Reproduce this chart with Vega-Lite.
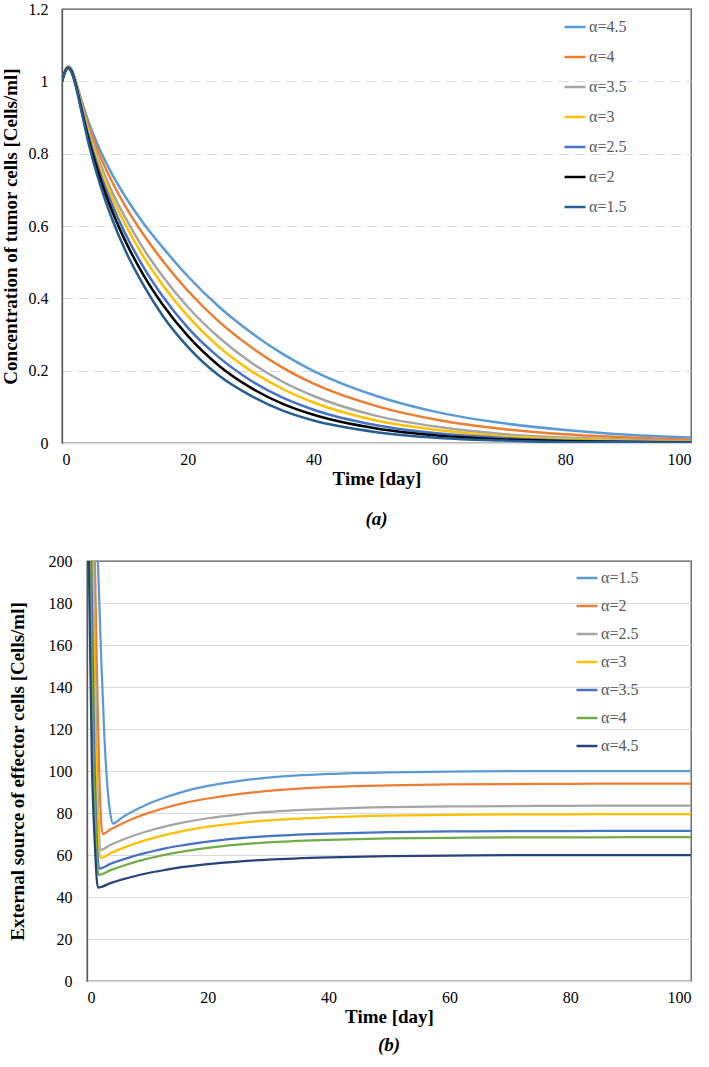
{
  "$schema": "https://vega.github.io/schema/vega-lite/v6.json",
  "background": "white",
  "padding": {"left": 0, "top": 0, "right": 4, "bottom": 4},
  "spacing": 22,
  "align": "none",
  "resolve": {
    "scale": {"x": "independent", "y": "independent", "color": "independent"},
    "legend": {"color": "independent"}
  },
  "config": {
    "font": "Liberation Serif",
    "view": {"stroke": "#595959", "strokeWidth": 1.3},
    "axis": {
      "labelFont": "Liberation Serif",
      "labelFontSize": 16,
      "labelColor": "#000000",
      "titleFont": "Liberation Serif",
      "titleFontSize": 19,
      "titleFontWeight": "bold",
      "titleColor": "#000000",
      "ticks": false,
      "gridColor": "#D9D9D9",
      "gridWidth": 1.2
    },
    "legend": {
      "labelFont": "Liberation Serif",
      "labelFontSize": 16,
      "labelColor": "#595959",
      "symbolType": "stroke",
      "symbolStrokeWidth": 2.5,
      "symbolSize": 441,
      "labelOffset": 2,
      "padding": 0
    },
    "title": {"font": "Liberation Serif", "fontSize": 19, "fontWeight": "bold", "fontStyle": "italic", "color": "#000000"}
  },
  "datasets": {
    "tumor": [
      {"day": 0, "alpha": "α=4.5", "cells": 1.0}, {"day": 0.5, "alpha": "α=4.5", "cells": 1.03}, {"day": 1, "alpha": "α=4.5", "cells": 1.042}, {"day": 1.5, "alpha": "α=4.5", "cells": 1.035}, {"day": 2, "alpha": "α=4.5", "cells": 1.01}, {"day": 3, "alpha": "α=4.5", "cells": 0.953}, {"day": 4, "alpha": "α=4.5", "cells": 0.899}, {"day": 6, "alpha": "α=4.5", "cells": 0.812}, {"day": 8, "alpha": "α=4.5", "cells": 0.742}, {"day": 10, "alpha": "α=4.5", "cells": 0.683}, {"day": 13, "alpha": "α=4.5", "cells": 0.606}, {"day": 16, "alpha": "α=4.5", "cells": 0.541}, {"day": 20, "alpha": "α=4.5", "cells": 0.461}, {"day": 25, "alpha": "α=4.5", "cells": 0.376}, {"day": 30, "alpha": "α=4.5", "cells": 0.306}, {"day": 35, "alpha": "α=4.5", "cells": 0.247}, {"day": 40, "alpha": "α=4.5", "cells": 0.199}, {"day": 50, "alpha": "α=4.5", "cells": 0.13}, {"day": 60, "alpha": "α=4.5", "cells": 0.084}, {"day": 70, "alpha": "α=4.5", "cells": 0.055}, {"day": 80, "alpha": "α=4.5", "cells": 0.036}, {"day": 90, "alpha": "α=4.5", "cells": 0.023}, {"day": 100, "alpha": "α=4.5", "cells": 0.015},
      {"day": 0, "alpha": "α=4", "cells": 1.0}, {"day": 0.5, "alpha": "α=4", "cells": 1.03}, {"day": 1, "alpha": "α=4", "cells": 1.041}, {"day": 1.5, "alpha": "α=4", "cells": 1.033}, {"day": 2, "alpha": "α=4", "cells": 1.01}, {"day": 3, "alpha": "α=4", "cells": 0.948}, {"day": 4, "alpha": "α=4", "cells": 0.889}, {"day": 6, "alpha": "α=4", "cells": 0.796}, {"day": 8, "alpha": "α=4", "cells": 0.721}, {"day": 10, "alpha": "α=4", "cells": 0.657}, {"day": 13, "alpha": "α=4", "cells": 0.575}, {"day": 16, "alpha": "α=4", "cells": 0.504}, {"day": 20, "alpha": "α=4", "cells": 0.421}, {"day": 25, "alpha": "α=4", "cells": 0.335}, {"day": 30, "alpha": "α=4", "cells": 0.266}, {"day": 35, "alpha": "α=4", "cells": 0.209}, {"day": 40, "alpha": "α=4", "cells": 0.164}, {"day": 50, "alpha": "α=4", "cells": 0.102}, {"day": 60, "alpha": "α=4", "cells": 0.063}, {"day": 70, "alpha": "α=4", "cells": 0.039}, {"day": 80, "alpha": "α=4", "cells": 0.024}, {"day": 90, "alpha": "α=4", "cells": 0.015}, {"day": 100, "alpha": "α=4", "cells": 0.009},
      {"day": 0, "alpha": "α=3.5", "cells": 1.0}, {"day": 0.5, "alpha": "α=3.5", "cells": 1.03}, {"day": 1, "alpha": "α=3.5", "cells": 1.04}, {"day": 1.5, "alpha": "α=3.5", "cells": 1.032}, {"day": 2, "alpha": "α=3.5", "cells": 1.008}, {"day": 3, "alpha": "α=3.5", "cells": 0.942}, {"day": 4, "alpha": "α=3.5", "cells": 0.878}, {"day": 6, "alpha": "α=3.5", "cells": 0.776}, {"day": 8, "alpha": "α=3.5", "cells": 0.693}, {"day": 10, "alpha": "α=3.5", "cells": 0.625}, {"day": 13, "alpha": "α=3.5", "cells": 0.536}, {"day": 16, "alpha": "α=3.5", "cells": 0.461}, {"day": 20, "alpha": "α=3.5", "cells": 0.376}, {"day": 25, "alpha": "α=3.5", "cells": 0.291}, {"day": 30, "alpha": "α=3.5", "cells": 0.223}, {"day": 35, "alpha": "α=3.5", "cells": 0.17}, {"day": 40, "alpha": "α=3.5", "cells": 0.13}, {"day": 50, "alpha": "α=3.5", "cells": 0.075}, {"day": 60, "alpha": "α=3.5", "cells": 0.044}, {"day": 70, "alpha": "α=3.5", "cells": 0.025}, {"day": 80, "alpha": "α=3.5", "cells": 0.015}, {"day": 90, "alpha": "α=3.5", "cells": 0.009}, {"day": 100, "alpha": "α=3.5", "cells": 0.005},
      {"day": 0, "alpha": "α=3", "cells": 1.0}, {"day": 0.5, "alpha": "α=3", "cells": 1.029}, {"day": 1, "alpha": "α=3", "cells": 1.039}, {"day": 1.5, "alpha": "α=3", "cells": 1.03}, {"day": 2, "alpha": "α=3", "cells": 1.006}, {"day": 3, "alpha": "α=3", "cells": 0.938}, {"day": 4, "alpha": "α=3", "cells": 0.872}, {"day": 6, "alpha": "α=3", "cells": 0.764}, {"day": 8, "alpha": "α=3", "cells": 0.677}, {"day": 10, "alpha": "α=3", "cells": 0.606}, {"day": 13, "alpha": "α=3", "cells": 0.514}, {"day": 16, "alpha": "α=3", "cells": 0.437}, {"day": 20, "alpha": "α=3", "cells": 0.351}, {"day": 25, "alpha": "α=3", "cells": 0.265}, {"day": 30, "alpha": "α=3", "cells": 0.2}, {"day": 35, "alpha": "α=3", "cells": 0.15}, {"day": 40, "alpha": "α=3", "cells": 0.112}, {"day": 50, "alpha": "α=3", "cells": 0.062}, {"day": 60, "alpha": "α=3", "cells": 0.035}, {"day": 70, "alpha": "α=3", "cells": 0.019}, {"day": 80, "alpha": "α=3", "cells": 0.011}, {"day": 90, "alpha": "α=3", "cells": 0.006}, {"day": 100, "alpha": "α=3", "cells": 0.003},
      {"day": 0, "alpha": "α=2.5", "cells": 1.0}, {"day": 0.5, "alpha": "α=2.5", "cells": 1.028}, {"day": 1, "alpha": "α=2.5", "cells": 1.038}, {"day": 1.5, "alpha": "α=2.5", "cells": 1.029}, {"day": 2, "alpha": "α=2.5", "cells": 1.004}, {"day": 3, "alpha": "α=2.5", "cells": 0.934}, {"day": 4, "alpha": "α=2.5", "cells": 0.863}, {"day": 6, "alpha": "α=2.5", "cells": 0.748}, {"day": 8, "alpha": "α=2.5", "cells": 0.658}, {"day": 10, "alpha": "α=2.5", "cells": 0.581}, {"day": 13, "alpha": "α=2.5", "cells": 0.485}, {"day": 16, "alpha": "α=2.5", "cells": 0.406}, {"day": 20, "alpha": "α=2.5", "cells": 0.319}, {"day": 25, "alpha": "α=2.5", "cells": 0.236}, {"day": 30, "alpha": "α=2.5", "cells": 0.173}, {"day": 35, "alpha": "α=2.5", "cells": 0.126}, {"day": 40, "alpha": "α=2.5", "cells": 0.092}, {"day": 50, "alpha": "α=2.5", "cells": 0.049}, {"day": 60, "alpha": "α=2.5", "cells": 0.026}, {"day": 70, "alpha": "α=2.5", "cells": 0.014}, {"day": 80, "alpha": "α=2.5", "cells": 0.007}, {"day": 90, "alpha": "α=2.5", "cells": 0.004}, {"day": 100, "alpha": "α=2.5", "cells": 0.002},
      {"day": 0, "alpha": "α=2", "cells": 1.0}, {"day": 0.5, "alpha": "α=2", "cells": 1.027}, {"day": 1, "alpha": "α=2", "cells": 1.037}, {"day": 1.5, "alpha": "α=2", "cells": 1.027}, {"day": 2, "alpha": "α=2", "cells": 1.002}, {"day": 3, "alpha": "α=2", "cells": 0.929}, {"day": 4, "alpha": "α=2", "cells": 0.855}, {"day": 6, "alpha": "α=2", "cells": 0.735}, {"day": 8, "alpha": "α=2", "cells": 0.64}, {"day": 10, "alpha": "α=2", "cells": 0.561}, {"day": 13, "alpha": "α=2", "cells": 0.463}, {"day": 16, "alpha": "α=2", "cells": 0.383}, {"day": 20, "alpha": "α=2", "cells": 0.296}, {"day": 25, "alpha": "α=2", "cells": 0.213}, {"day": 30, "alpha": "α=2", "cells": 0.153}, {"day": 35, "alpha": "α=2", "cells": 0.109}, {"day": 40, "alpha": "α=2", "cells": 0.078}, {"day": 50, "alpha": "α=2", "cells": 0.04}, {"day": 60, "alpha": "α=2", "cells": 0.02}, {"day": 70, "alpha": "α=2", "cells": 0.01}, {"day": 80, "alpha": "α=2", "cells": 0.005}, {"day": 90, "alpha": "α=2", "cells": 0.003}, {"day": 100, "alpha": "α=2", "cells": 0.001},
      {"day": 0, "alpha": "α=1.5", "cells": 1.0}, {"day": 0.5, "alpha": "α=1.5", "cells": 1.026}, {"day": 1, "alpha": "α=1.5", "cells": 1.036}, {"day": 1.5, "alpha": "α=1.5", "cells": 1.025}, {"day": 2, "alpha": "α=1.5", "cells": 1.0}, {"day": 3, "alpha": "α=1.5", "cells": 0.924}, {"day": 4, "alpha": "α=1.5", "cells": 0.845}, {"day": 6, "alpha": "α=1.5", "cells": 0.718}, {"day": 8, "alpha": "α=1.5", "cells": 0.618}, {"day": 10, "alpha": "α=1.5", "cells": 0.535}, {"day": 13, "alpha": "α=1.5", "cells": 0.435}, {"day": 16, "alpha": "α=1.5", "cells": 0.352}, {"day": 20, "alpha": "α=1.5", "cells": 0.266}, {"day": 25, "alpha": "α=1.5", "cells": 0.186}, {"day": 30, "alpha": "α=1.5", "cells": 0.131}, {"day": 35, "alpha": "α=1.5", "cells": 0.09}, {"day": 40, "alpha": "α=1.5", "cells": 0.062}, {"day": 50, "alpha": "α=1.5", "cells": 0.03}, {"day": 60, "alpha": "α=1.5", "cells": 0.014}, {"day": 70, "alpha": "α=1.5", "cells": 0.007}, {"day": 80, "alpha": "α=1.5", "cells": 0.003}, {"day": 90, "alpha": "α=1.5", "cells": 0.002}, {"day": 100, "alpha": "α=1.5", "cells": 0.001}
    ],
    "effector": [
      {"day": 1.8, "alpha": "α=1.5", "cells": 200}, {"day": 2.4, "alpha": "α=1.5", "cells": 150}, {"day": 2.9, "alpha": "α=1.5", "cells": 115}, {"day": 3.4, "alpha": "α=1.5", "cells": 92}, {"day": 3.9, "alpha": "α=1.5", "cells": 79}, {"day": 4.3, "alpha": "α=1.5", "cells": 75}, {"day": 6, "alpha": "α=1.5", "cells": 78.2}, {"day": 8, "alpha": "α=1.5", "cells": 81.4}, {"day": 10, "alpha": "α=1.5", "cells": 84.2}, {"day": 13, "alpha": "α=1.5", "cells": 87.5}, {"day": 16, "alpha": "α=1.5", "cells": 90.2}, {"day": 20, "alpha": "α=1.5", "cells": 92.9}, {"day": 25, "alpha": "α=1.5", "cells": 95.2}, {"day": 30, "alpha": "α=1.5", "cells": 96.8}, {"day": 40, "alpha": "α=1.5", "cells": 98.6}, {"day": 50, "alpha": "α=1.5", "cells": 99.4}, {"day": 60, "alpha": "α=1.5", "cells": 99.7}, {"day": 70, "alpha": "α=1.5", "cells": 99.9}, {"day": 80, "alpha": "α=1.5", "cells": 99.9}, {"day": 90, "alpha": "α=1.5", "cells": 100}, {"day": 100, "alpha": "α=1.5", "cells": 100},
      {"day": 1.3, "alpha": "α=2", "cells": 200}, {"day": 1.7, "alpha": "α=2", "cells": 140}, {"day": 2.0, "alpha": "α=2", "cells": 102}, {"day": 2.3, "alpha": "α=2", "cells": 78}, {"day": 2.6, "alpha": "α=2", "cells": 70}, {"day": 4, "alpha": "α=2", "cells": 72.4}, {"day": 6, "alpha": "α=2", "cells": 75.2}, {"day": 8, "alpha": "α=2", "cells": 77.7}, {"day": 10, "alpha": "α=2", "cells": 79.8}, {"day": 13, "alpha": "α=2", "cells": 82.5}, {"day": 16, "alpha": "α=2", "cells": 84.7}, {"day": 20, "alpha": "α=2", "cells": 86.9}, {"day": 25, "alpha": "α=2", "cells": 89.0}, {"day": 30, "alpha": "α=2", "cells": 90.5}, {"day": 40, "alpha": "α=2", "cells": 92.3}, {"day": 50, "alpha": "α=2", "cells": 93.1}, {"day": 60, "alpha": "α=2", "cells": 93.6}, {"day": 70, "alpha": "α=2", "cells": 93.8}, {"day": 80, "alpha": "α=2", "cells": 93.9}, {"day": 90, "alpha": "α=2", "cells": 94}, {"day": 100, "alpha": "α=2", "cells": 94},
      {"day": 1.1, "alpha": "α=2.5", "cells": 200}, {"day": 1.5, "alpha": "α=2.5", "cells": 120}, {"day": 1.9, "alpha": "α=2.5", "cells": 78}, {"day": 2.2, "alpha": "α=2.5", "cells": 62.5}, {"day": 4, "alpha": "α=2.5", "cells": 65.0}, {"day": 6, "alpha": "α=2.5", "cells": 67.4}, {"day": 8, "alpha": "α=2.5", "cells": 69.5}, {"day": 10, "alpha": "α=2.5", "cells": 71.3}, {"day": 13, "alpha": "α=2.5", "cells": 73.6}, {"day": 16, "alpha": "α=2.5", "cells": 75.5}, {"day": 20, "alpha": "α=2.5", "cells": 77.5}, {"day": 25, "alpha": "α=2.5", "cells": 79.2}, {"day": 30, "alpha": "α=2.5", "cells": 80.5}, {"day": 40, "alpha": "α=2.5", "cells": 82.0}, {"day": 50, "alpha": "α=2.5", "cells": 82.8}, {"day": 60, "alpha": "α=2.5", "cells": 83.1}, {"day": 70, "alpha": "α=2.5", "cells": 83.3}, {"day": 80, "alpha": "α=2.5", "cells": 83.4}, {"day": 90, "alpha": "α=2.5", "cells": 83.5}, {"day": 100, "alpha": "α=2.5", "cells": 83.5},
      {"day": 0.9, "alpha": "α=3", "cells": 200}, {"day": 1.4, "alpha": "α=3", "cells": 115}, {"day": 1.8, "alpha": "α=3", "cells": 75}, {"day": 2.2, "alpha": "α=3", "cells": 58.5}, {"day": 4, "alpha": "α=3", "cells": 61.0}, {"day": 6, "alpha": "α=3", "cells": 63.4}, {"day": 8, "alpha": "α=3", "cells": 65.5}, {"day": 10, "alpha": "α=3", "cells": 67.3}, {"day": 13, "alpha": "α=3", "cells": 69.6}, {"day": 16, "alpha": "α=3", "cells": 71.5}, {"day": 20, "alpha": "α=3", "cells": 73.5}, {"day": 25, "alpha": "α=3", "cells": 75.2}, {"day": 30, "alpha": "α=3", "cells": 76.5}, {"day": 40, "alpha": "α=3", "cells": 78.0}, {"day": 50, "alpha": "α=3", "cells": 78.8}, {"day": 60, "alpha": "α=3", "cells": 79.1}, {"day": 70, "alpha": "α=3", "cells": 79.3}, {"day": 80, "alpha": "α=3", "cells": 79.4}, {"day": 90, "alpha": "α=3", "cells": 79.5}, {"day": 100, "alpha": "α=3", "cells": 79.5},
      {"day": 0.7, "alpha": "α=3.5", "cells": 200}, {"day": 1.2, "alpha": "α=3.5", "cells": 110}, {"day": 1.6, "alpha": "α=3.5", "cells": 70}, {"day": 2.0, "alpha": "α=3.5", "cells": 53.5}, {"day": 4, "alpha": "α=3.5", "cells": 55.9}, {"day": 6, "alpha": "α=3.5", "cells": 57.9}, {"day": 8, "alpha": "α=3.5", "cells": 59.7}, {"day": 10, "alpha": "α=3.5", "cells": 61.2}, {"day": 13, "alpha": "α=3.5", "cells": 63.2}, {"day": 16, "alpha": "α=3.5", "cells": 64.7}, {"day": 20, "alpha": "α=3.5", "cells": 66.4}, {"day": 25, "alpha": "α=3.5", "cells": 67.9}, {"day": 30, "alpha": "α=3.5", "cells": 69.0}, {"day": 40, "alpha": "α=3.5", "cells": 70.2}, {"day": 50, "alpha": "α=3.5", "cells": 70.9}, {"day": 60, "alpha": "α=3.5", "cells": 71.2}, {"day": 70, "alpha": "α=3.5", "cells": 71.4}, {"day": 80, "alpha": "α=3.5", "cells": 71.4}, {"day": 90, "alpha": "α=3.5", "cells": 71.5}, {"day": 100, "alpha": "α=3.5", "cells": 71.5},
      {"day": 0.5, "alpha": "α=4", "cells": 200}, {"day": 1.0, "alpha": "α=4", "cells": 110}, {"day": 1.5, "alpha": "α=4", "cells": 68}, {"day": 1.9, "alpha": "α=4", "cells": 50.5}, {"day": 4, "alpha": "α=4", "cells": 52.9}, {"day": 6, "alpha": "α=4", "cells": 54.9}, {"day": 8, "alpha": "α=4", "cells": 56.7}, {"day": 10, "alpha": "α=4", "cells": 58.2}, {"day": 13, "alpha": "α=4", "cells": 60.2}, {"day": 16, "alpha": "α=4", "cells": 61.7}, {"day": 20, "alpha": "α=4", "cells": 63.4}, {"day": 25, "alpha": "α=4", "cells": 64.9}, {"day": 30, "alpha": "α=4", "cells": 66.0}, {"day": 40, "alpha": "α=4", "cells": 67.2}, {"day": 50, "alpha": "α=4", "cells": 67.9}, {"day": 60, "alpha": "α=4", "cells": 68.2}, {"day": 70, "alpha": "α=4", "cells": 68.4}, {"day": 80, "alpha": "α=4", "cells": 68.4}, {"day": 90, "alpha": "α=4", "cells": 68.5}, {"day": 100, "alpha": "α=4", "cells": 68.5},
      {"day": 0.3, "alpha": "α=4.5", "cells": 200}, {"day": 0.8, "alpha": "α=4.5", "cells": 105}, {"day": 1.3, "alpha": "α=4.5", "cells": 65}, {"day": 1.8, "alpha": "α=4.5", "cells": 44.5}, {"day": 4, "alpha": "α=4.5", "cells": 46.7}, {"day": 6, "alpha": "α=4.5", "cells": 48.5}, {"day": 8, "alpha": "α=4.5", "cells": 50.0}, {"day": 10, "alpha": "α=4.5", "cells": 51.3}, {"day": 13, "alpha": "α=4.5", "cells": 52.9}, {"day": 16, "alpha": "α=4.5", "cells": 54.3}, {"day": 20, "alpha": "α=4.5", "cells": 55.7}, {"day": 25, "alpha": "α=4.5", "cells": 56.9}, {"day": 30, "alpha": "α=4.5", "cells": 57.8}, {"day": 40, "alpha": "α=4.5", "cells": 58.9}, {"day": 50, "alpha": "α=4.5", "cells": 59.5}, {"day": 60, "alpha": "α=4.5", "cells": 59.7}, {"day": 70, "alpha": "α=4.5", "cells": 59.9}, {"day": 80, "alpha": "α=4.5", "cells": 59.9}, {"day": 90, "alpha": "α=4.5", "cells": 60}, {"day": 100, "alpha": "α=4.5", "cells": 60}
    ]
  },
  "vconcat": [
    {
      "width": 629,
      "height": 434,
      "data": {"name": "tumor"},
      "title": {"text": "(a)", "orient": "bottom", "offset": 22},
      "mark": {"type": "line", "strokeWidth": 2.5, "interpolate": "monotone", "clip": true},
      "encoding": {
        "x": {
          "field": "day", "type": "quantitative",
          "scale": {"domain": [0, 100], "nice": false},
          "axis": {"values": [0, 20, 40, 60, 80, 100], "title": "Time [day]", "grid": false, "domainColor": "#D9D9D9", "domainWidth": 1.3, "labelPadding": 8, "titlePadding": 2}
        },
        "y": {
          "field": "cells", "type": "quantitative",
          "scale": {"domain": [0, 1.2], "nice": false},
          "axis": {
            "values": [0, 0.2, 0.4, 0.6, 0.8, 1, 1.2], "format": "~g",
            "title": "Concentration of tumor cells [Cells/ml]",
            "gridDash": [10, 6],
            "gridOpacity": {"condition": {"test": "datum.value === 0 || datum.value >= 1.2", "value": 0}, "value": 1},
            "domainColor": "#595959", "domainWidth": 1.3,
            "labelPadding": 14, "titlePadding": 8
          }
        },
        "color": {
          "field": "alpha", "type": "nominal",
          "scale": {
            "domain": ["α=4.5", "α=4", "α=3.5", "α=3", "α=2.5", "α=2", "α=1.5"],
            "range": ["#5B9BD5", "#ED7D31", "#A5A5A5", "#FFC000", "#4472C4", "#000000", "#255E91"]
          },
          "legend": {"title": null, "orient": "none", "legendX": 501, "legendY": 6, "rowPadding": 10}
        }
      }
    },
    {
      "bounds": "flush",
      "spacing": 0,
      "resolve": {
        "scale": {"x": "independent", "y": "independent", "color": "independent"},
        "legend": {"color": "independent"}
      },
      "hconcat": [
        {
          "width": 25,
          "height": 420,
          "view": {"stroke": null},
          "data": {"values": []},
          "mark": "point"
        },
        {
          "width": 604,
          "height": 420,
          "data": {"name": "effector"},
          "title": {"text": "(b)", "orient": "bottom", "offset": 10},
          "mark": {"type": "line", "strokeWidth": 2.25, "interpolate": "monotone", "clip": true},
          "encoding": {
            "x": {
              "field": "day", "type": "quantitative",
              "scale": {"domain": [0, 100], "nice": false},
              "axis": {"values": [0, 20, 40, 60, 80, 100], "title": "Time [day]", "grid": false, "domainColor": "#D9D9D9", "domainWidth": 1.3, "labelPadding": 8, "titlePadding": 2}
            },
            "y": {
              "field": "cells", "type": "quantitative",
              "scale": {"domain": [0, 200], "nice": false},
              "axis": {
                "values": [0, 20, 40, 60, 80, 100, 120, 140, 160, 180, 200],
                "title": "External source of effector cells [Cells/ml]",
                "gridOpacity": {"condition": {"test": "datum.value === 0 || datum.value >= 200", "value": 0}, "value": 1},
                "domainColor": "#595959", "domainWidth": 1.3,
                "labelPadding": 15, "titlePadding": 21
              }
            },
            "color": {
              "field": "alpha", "type": "nominal",
              "scale": {
                "domain": ["α=1.5", "α=2", "α=2.5", "α=3", "α=3.5", "α=4", "α=4.5"],
                "range": ["#5B9BD5", "#ED7D31", "#A5A5A5", "#FFC000", "#4472C4", "#70AD47", "#264478"]
              },
              "legend": {"title": null, "orient": "none", "legendX": 488, "legendY": 5, "rowPadding": 8}
            }
          }
        }
      ]
    }
  ]
}
